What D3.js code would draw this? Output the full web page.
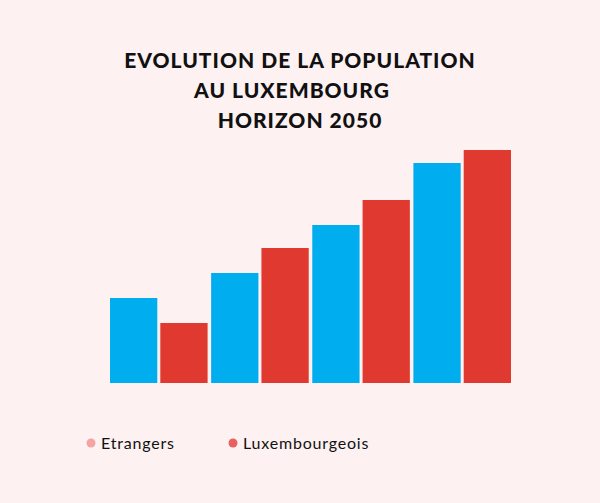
<!DOCTYPE html><html><head><meta charset="utf-8">
<script src="https://cdn.jsdelivr.net/npm/d3@7"></script>
<style>body{margin:0;background:#fdf1f1}</style></head><body><svg id="c" width="600" height="503"></svg>
<script>
const categories=["G1","G2","G3","G4"];
const seriesNames=["Etrangers","Luxembourgeois"];
const etrangers=[85,110,158,220];
const luxembourgeois=[60,135,183,233];
const titleLines=["EVOLUTION DE LA POPULATION","AU LUXEMBOURG","HORIZON 2050"];
const svg=d3.select("#c");
svg.append("rect").attr("width",600).attr("height",503).attr("fill","#fdf1f1");
svg.selectAll(".t").data(titleLines).join("text").attr("x",(d,i)=>i==0?300:i==1?292:300).attr("y",(d,i)=>68+i*30)
 .attr("text-anchor","middle").attr("font-family","Lato, sans-serif").attr("font-weight",900).attr("font-size",21).attr("letter-spacing",1).attr("fill","#111").text(d=>d);
const x=d3.scaleBand().domain(categories).range([110,511]).paddingInner(0.035).paddingOuter(0);
const xs=d3.scaleBand().domain(seriesNames).range([0,x.bandwidth()]).paddingInner(0.06);
const y=d3.scaleLinear().domain([0,233]).range([383,150]);
const colors=["#00aeef","#e03a30"];
const data=categories.map((c,i)=>({c,v:[etrangers[i],luxembourgeois[i]]}));
const g=svg.selectAll(".g").data(data).join("g").attr("transform",d=>`translate(${x(d.c)},0)`);
g.selectAll("rect").data(d=>d.v.map((v,j)=>({v,s:seriesNames[j],j}))).join("rect")
 .attr("x",d=>xs(d.s)).attr("width",xs.bandwidth()).attr("y",d=>y(d.v)).attr("height",d=>383-y(d.v)).attr("fill",d=>colors[d.j]);
const legCol=["#f2a5a5","#e86060"];
const lx=[91,233];
seriesNames.forEach((n,i)=>{
 svg.append("circle").attr("cx",lx[i]).attr("cy",443).attr("r",4.5).attr("fill",legCol[i]);
 svg.append("text").attr("x",lx[i]+10).attr("y",449).attr("font-family","Lato, sans-serif").attr("font-size",16).attr("letter-spacing",0.8).attr("fill","#111").text(n);
});
</script></body></html>
